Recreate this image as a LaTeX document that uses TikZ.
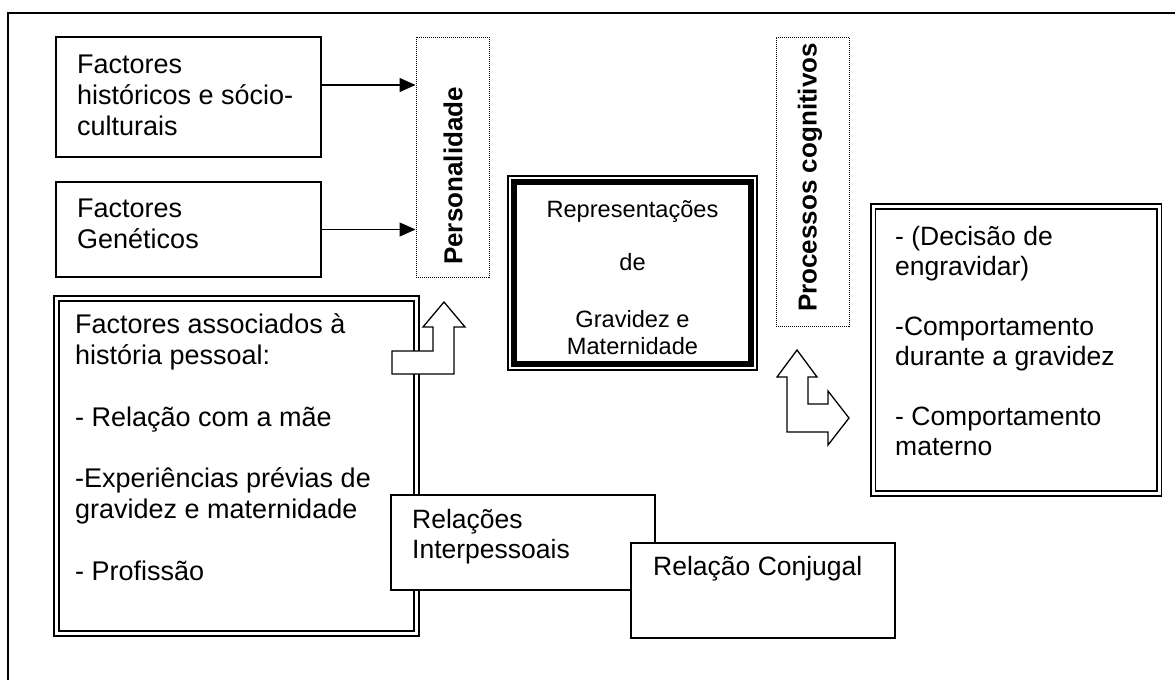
\documentclass[tikz,border=0pt]{standalone}
\usepackage{fontspec}
\setmainfont{Liberation Sans}
\usetikzlibrary{arrows.meta,positioning,calc}

\begin{document}
\begin{tikzpicture}[x=1pt,y=-1pt,
    box/.style={draw,line width=1.3pt,fill=white,inner sep=0pt},
    dblbox/.style={draw,double,double distance=3pt,line width=1.6pt,inner sep=0pt},
    dotbox/.style={draw,densely dotted,line width=1pt,inner sep=0pt},
    txt/.style={font=\fontsize{26.5}{30}\selectfont,align=left,anchor=west,inner sep=0pt},
    bigtxt/.style={font=\fontsize{27}{31}\selectfont,align=left,anchor=west,inner sep=0pt},
    vtxt/.style={font=\fontsize{26}{30}\selectfont\bfseries,rotate=90,anchor=west,inner sep=0pt},
    arr/.style={line width=1.3pt,-{Triangle[length=16pt,width=14pt]}},
    hollow/.style={draw,line width=1.3pt,fill=white,line join=miter}]
    \useasboundingbox (0,0) rectangle (1175,680);
    \draw[line width=1.5pt] (1175,13) -- (8,13) -- (8,680);

    % left column
    \node[box,minimum width=265pt,minimum height=120pt] (hist) at (188.5,97) {};
    \node[bigtxt] (histtxt) at (77,95.5) {Factores\\históricos e sócio-\\culturais};
    \node[box,minimum width=265pt,minimum height=95pt] (gen) at (188.5,229.5) {};
    \node[bigtxt] (gentxt) at (77,223.5) {Factores\\Genéticos};
    \node[dblbox,minimum width=360pt,minimum height=335pt] (story) at (236.5,466) {};
    \node[bigtxt] (storytxt) at (75,447) {Factores associados à\\história pessoal:\\[30.5pt]- Relação com a mãe\\[30.5pt]-Experiências prévias de\\gravidez e maternidade\\[30.5pt]- Profissão};

    % personalidade
    \node[dotbox,minimum width=73pt,minimum height=240pt] (pers) at (452.5,157) {};
    \node[vtxt] (perstxt) at (453,265) {Personalidade};
    \draw[arr] ([yshift=12pt]hist.east) -- ([yshift=12pt]hist.east -| pers.west);
    \draw[arr] (gen.east) -- (gen.east -| pers.west);
    \draw[hollow] (392,374) -- (454,374) -- (454,327) -- (465,327) -- (444,302)
        -- (423,327) -- (433,327) -- (433,351) -- (392,351) -- cycle;

    % representacoes
    \node[box,line width=1.5pt,minimum width=249pt,minimum height=194pt] (rep) at (632.5,273) {};
    \draw[line width=6pt] ([shift={(7,7)}]rep.north west) rectangle ([shift={(-7,-7)}]rep.south east);
    \node[font=\fontsize{23.6}{27}\selectfont,align=center,inner sep=0pt] (reptxt) at (632.5,278)
        {Representações\\[26pt]de\\[30pt]Gravidez e\\Maternidade};

    % processos cognitivos
    \node[dotbox,minimum width=73pt,minimum height=289pt] (proc) at (812.5,181.5) {};
    \node[vtxt] (proctxt) at (810,312) {Processos cognitivos};
    \draw[hollow] (797,350) -- (817,377) -- (808,377) -- (808,404) -- (828,404) -- (828,391)
        -- (849,418) -- (828,445) -- (828,432) -- (787,432) -- (787,377) -- (777,377) -- cycle;

    % comportamento
    \node[dblbox,minimum width=286pt,minimum height=287pt] (beh) at (1016,350) {};
    \node[txt] (behtxt) at (895,341) {- (Decisão de\\engravidar)\\[30pt]-Comportamento\\durante a gravidez\\[30pt]- Comportamento\\materno};

    % relacoes
    \node[box,minimum width=264pt,minimum height=95pt] (inter) at (523,542.5) {};
    \node[txt] (intertxt) at (412,536.7) {Relações\\Interpessoais};
    \node[box,minimum width=264pt,minimum height=95pt] (conj) at (763,590.5) {};
    \node[txt] (conjtxt) at (653,568.75) {Relação Conjugal};
\end{tikzpicture}
\end{document}
